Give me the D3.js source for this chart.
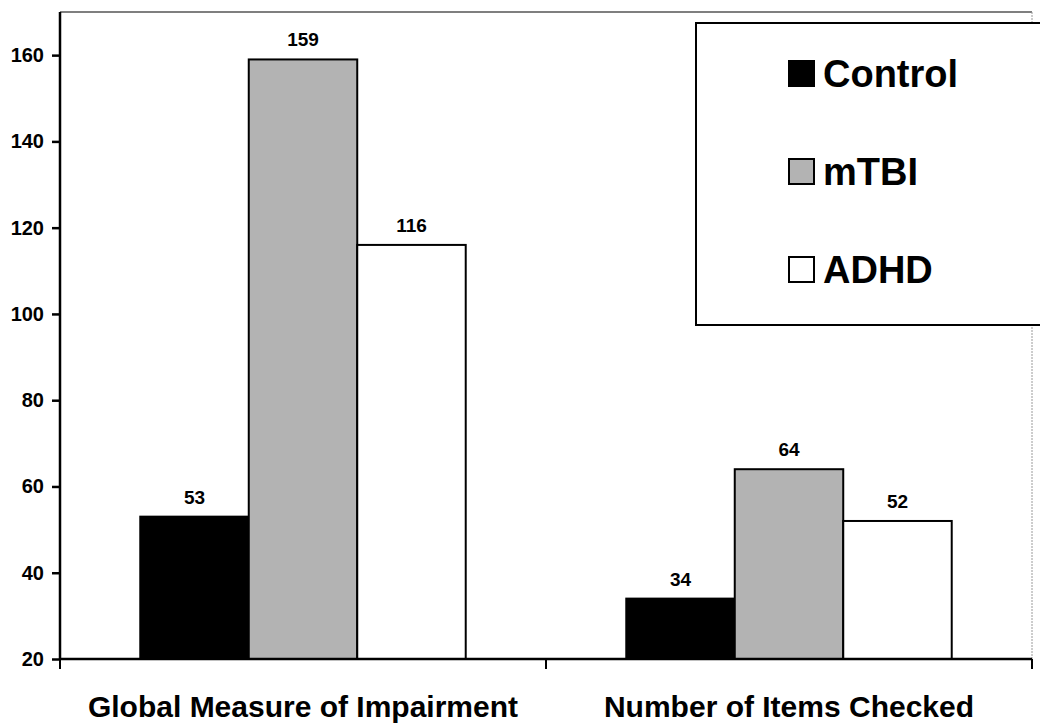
<!DOCTYPE html>
<html>
<head>
<meta charset="utf-8">
<script src="https://cdn.jsdelivr.net/npm/d3@7"></script>
<style>
  html, body { margin: 0; padding: 0; background: #fff; }
  svg { display: block; }
  text { font-family: "Liberation Sans", Arial, sans-serif; font-weight: bold; fill: #000; }
</style>
</head>
<body>
<svg id="chart" width="1040" height="728"></svg>
<script>
// Measures shown on the x axis
const categories = ["Global Measure of Impairment", "Number of Items Checked"];
// Groups compared within each measure
const groups = ["Control", "mTBI", "ADHD"];
// Mean score per group, one array per group, in category order
const controlValues = [53, 34];
const mtbiValues = [159, 64];
const adhdValues = [116, 52];
// Y axis tick values
const yTicks = [20, 40, 60, 80, 100, 120, 140, 160];

const groupFill = { Control: "#000000", mTBI: "#b3b3b3", ADHD: "#ffffff" };
const seriesByGroup = { Control: controlValues, mTBI: mtbiValues, ADHD: adhdValues };

const rows = categories.map((c, i) => ({
  category: c,
  bars: groups.map(g => ({ group: g, value: seriesByGroup[g][i] }))
}));

const svg = d3.select("#chart");
const plotLeft = 60, plotRight = 1032, plotTop = 12, plotBottom = 659;

const x0 = d3.scaleBand().domain(categories).range([plotLeft, plotRight]).padding(0);
const x1 = d3.scaleBand().domain(groups).range([0, x0.bandwidth()])
  .paddingInner(0).paddingOuter(0.74);
const y = d3.scaleLinear().domain([20, 170]).range([plotBottom, plotTop]);

// plot frame: top and right edges
svg.append("line").attr("x1", plotLeft).attr("x2", plotRight).attr("y1", plotTop).attr("y2", plotTop)
  .attr("stroke", "#555").attr("stroke-width", 1.5);
svg.append("line").attr("x1", plotRight).attr("x2", plotRight).attr("y1", plotTop).attr("y2", plotBottom)
  .attr("stroke", "#9a9a9a").attr("stroke-width", 1).attr("stroke-dasharray", "2,1");

// bars
const gCat = svg.selectAll("g.cat").data(rows).join("g")
  .attr("class", "cat")
  .attr("transform", d => `translate(${x0(d.category)},0)`);

gCat.selectAll("rect").data(d => d.bars).join("rect")
  .attr("x", d => x1(d.group))
  .attr("y", d => y(d.value))
  .attr("width", x1.bandwidth())
  .attr("height", d => y(20) - y(d.value))
  .attr("fill", d => groupFill[d.group])
  .attr("stroke", "#000").attr("stroke-width", 2);

gCat.selectAll("text.val").data(d => d.bars).join("text")
  .attr("class", "val")
  .attr("x", d => x1(d.group) + x1.bandwidth() / 2)
  .attr("y", d => y(d.value) - 13)
  .attr("text-anchor", "middle")
  .attr("font-size", 19)
  .text(d => d.value);

// y axis
const yAxis = svg.append("g").attr("transform", `translate(${plotLeft},0)`)
  .call(d3.axisLeft(y).tickValues(yTicks).tickSize(8).tickPadding(8));
yAxis.select(".domain").attr("d", `M0,${plotTop}V${plotBottom + 1}`).attr("stroke", "#000").attr("stroke-width", 2.5);
yAxis.selectAll(".tick line").attr("stroke", "#000").attr("stroke-width", 2.5);
yAxis.selectAll(".tick text").attr("font-size", 20).attr("font-family", "'Liberation Sans', Arial, sans-serif")
  .attr("font-weight", "bold").attr("fill", "#000");

// x axis with boundary ticks between categories
const xAxis = svg.append("g").attr("transform", `translate(0,${plotBottom})`);
xAxis.append("line").attr("x1", plotLeft).attr("x2", plotRight).attr("y1", 0).attr("y2", 0)
  .attr("stroke", "#000").attr("stroke-width", 2.5);
const bounds = [plotLeft].concat(categories.map(c => x0(c) + x0.bandwidth()));
xAxis.selectAll("line.tk").data(bounds).join("line")
  .attr("class", "tk")
  .attr("x1", d => d).attr("x2", d => d).attr("y1", 0).attr("y2", 10)
  .attr("stroke", "#000").attr("stroke-width", 2);
xAxis.selectAll("text.cat").data(categories).join("text")
  .attr("class", "cat")
  .attr("x", d => x0(d) + x0.bandwidth() / 2)
  .attr("y", 58)
  .attr("text-anchor", "middle")
  .attr("font-size", 30)
  .text(d => d);

// legend
const legend = svg.append("g");
legend.append("rect").attr("x", 696).attr("y", 23).attr("width", 360).attr("height", 302)
  .attr("fill", "#fff").attr("stroke", "#000").attr("stroke-width", 2);
const legendRow = legend.selectAll("g.item").data(groups).join("g")
  .attr("class", "item")
  .attr("transform", (d, i) => `translate(788,${87 + i * 98})`);
legendRow.append("rect").attr("x", 1).attr("y", -26).attr("width", 25).attr("height", 25)
  .attr("fill", d => groupFill[d]).attr("stroke", "#000").attr("stroke-width", 2);
legendRow.append("text").attr("x", 35).attr("y", 0).attr("font-size", 38).text(d => d);
</script>
</body>
</html>
